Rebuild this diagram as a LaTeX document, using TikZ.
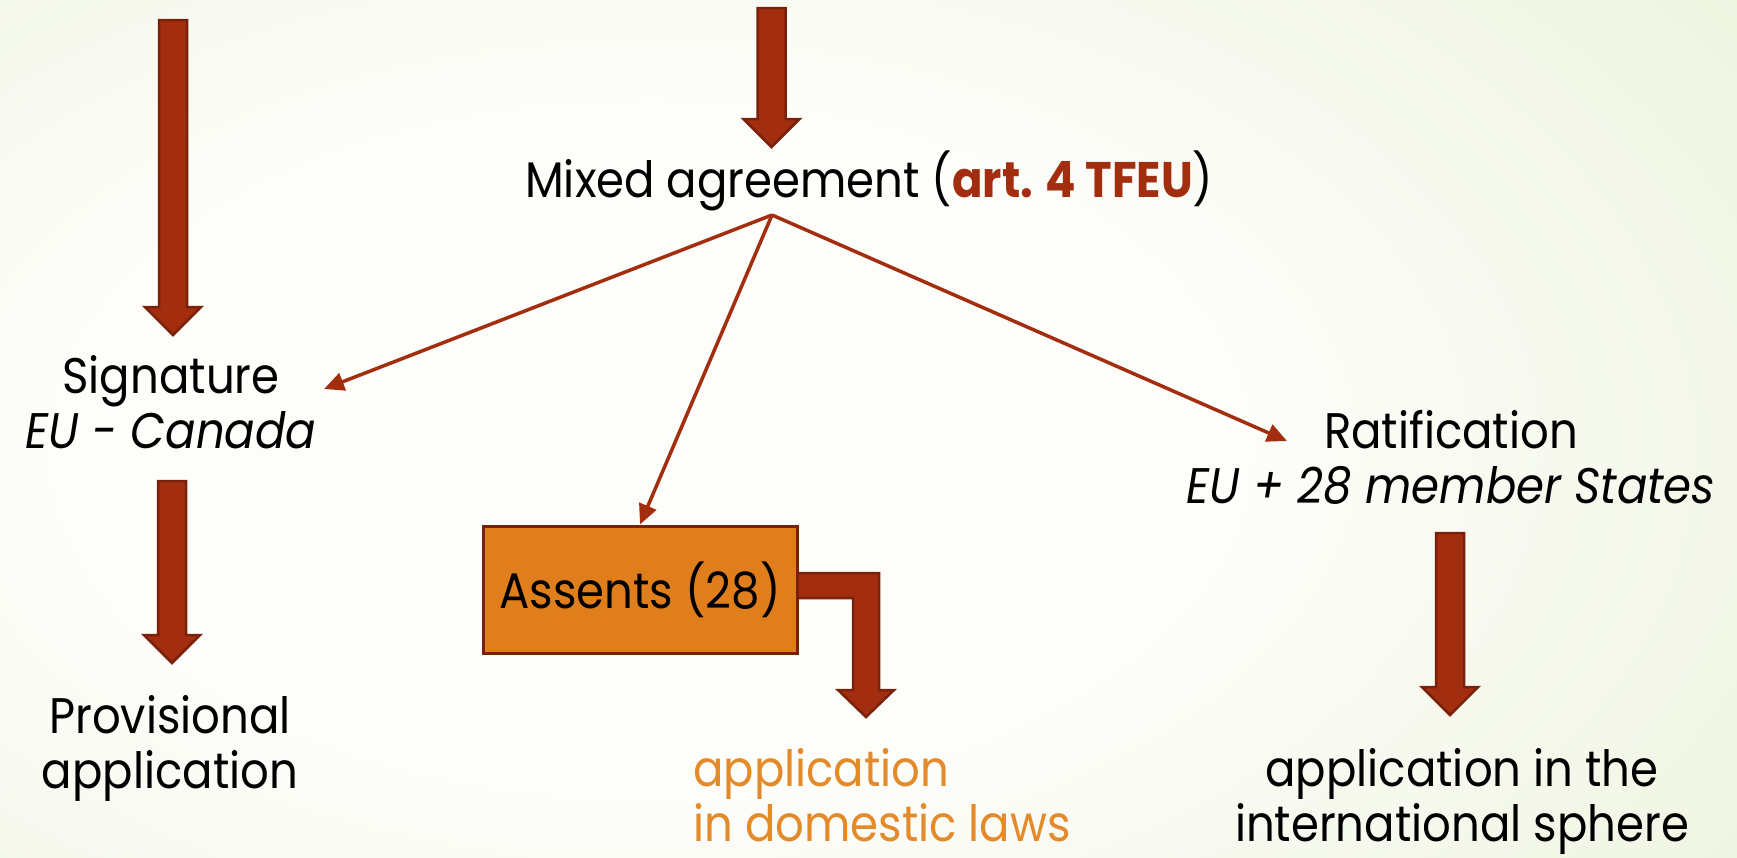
\documentclass[tikz,border=0pt]{standalone}
\usepackage{fontspec}
\setmainfont{Poppins}[FakeStretch=0.9]
\usetikzlibrary{arrows.meta}
\definecolor{rust}{HTML}{A32D0F}
\definecolor{rustdark}{HTML}{7A210B}
\definecolor{amber}{HTML}{DF7E1A}
\definecolor{ambertext}{HTML}{E38A2A}
\definecolor{paper}{HTML}{FDFDFA}
\definecolor{sage}{HTML}{E8F0D4}
\pgfdeclareradialshading{paperglow}{\pgfpoint{0bp}{0bp}}{color(0bp)=(paper); color(12bp)=(paper); color(36bp)=(sage); color(50bp)=(sage)}
\tikzset{
  fatarrow/.style={fill=rust,draw=rustdark,line width=2.5pt,line join=miter},
  link/.style={draw=rust,line width=3.5pt,-{Triangle[length=20pt,width=18pt]}},
  words/.style={font=\fontsize{50}{55}\selectfont,align=center,anchor=base,inner sep=0pt},
  assentbox/.style={fill=amber,draw=rustdark,line width=3pt,minimum width=314pt,minimum height=127pt,font=\fontsize{50}{55}\selectfont}
}
% x: centre of the shaft, #2: top, #3: tip
\newcommand{\fatdown}[3]{\draw[fatarrow] (#1-14,#2) -- (#1+14,#2) -- (#1+14,#3-28) -- (#1+28,#3-28) -- (#1,#3) -- (#1-28,#3-28) -- (#1-14,#3-28) -- cycle;}
\begin{document}
\begin{tikzpicture}[x=1pt,y=-1pt]
\useasboundingbox (0,0) rectangle (1737,857);
\begin{scope}
\clip (0,0) rectangle (1737,857);
\shade[shading=paperglow] (-550,-250) rectangle (1850,1150);
\end{scope}

\fatdown{173}{20}{335}
\fatdown{172}{481}{663}
\fatdown{771.5}{8}{147}
\fatdown{1450}{533}{715}
\draw[fatarrow] (795,573) -- (879,573) -- (879,690) -- (894,690) -- (866,717) -- (838,690) -- (853,690) -- (853,598) -- (795,598) -- cycle;

% anchor=base is the last line
\node[words,anchor=base west] (mixed) at (525,197) {Mixed agreement (\textbf{\color{rust}art. 4 TFEU})};
\node[words] (sig) at (171,448) {Signature\\\textit{EU - Canada}};
\node[words] (prov) at (170,788) {Provisional\\application};
\node[assentbox] (assent) at (640,589.5) {Assents (28)};
\node[words,align=left,anchor=base west,text=ambertext] (domestic) at (693,841) {application\\in domestic laws};
\node[words] (ratif) at (1451,503) {Ratification\\\textit{EU + 28 member States}};
\node[words] (intl) at (1462,841) {application in the\\international sphere};

\coordinate (apex) at (772,215);
\coordinate (sigin) at (324,389);
\coordinate (ratifin) at (1287,441);
\draw[link] (apex) -- (sigin);
\draw[link] (apex) -- (assent.north);
\draw[link] (apex) -- (ratifin);
\end{tikzpicture}
\end{document}
